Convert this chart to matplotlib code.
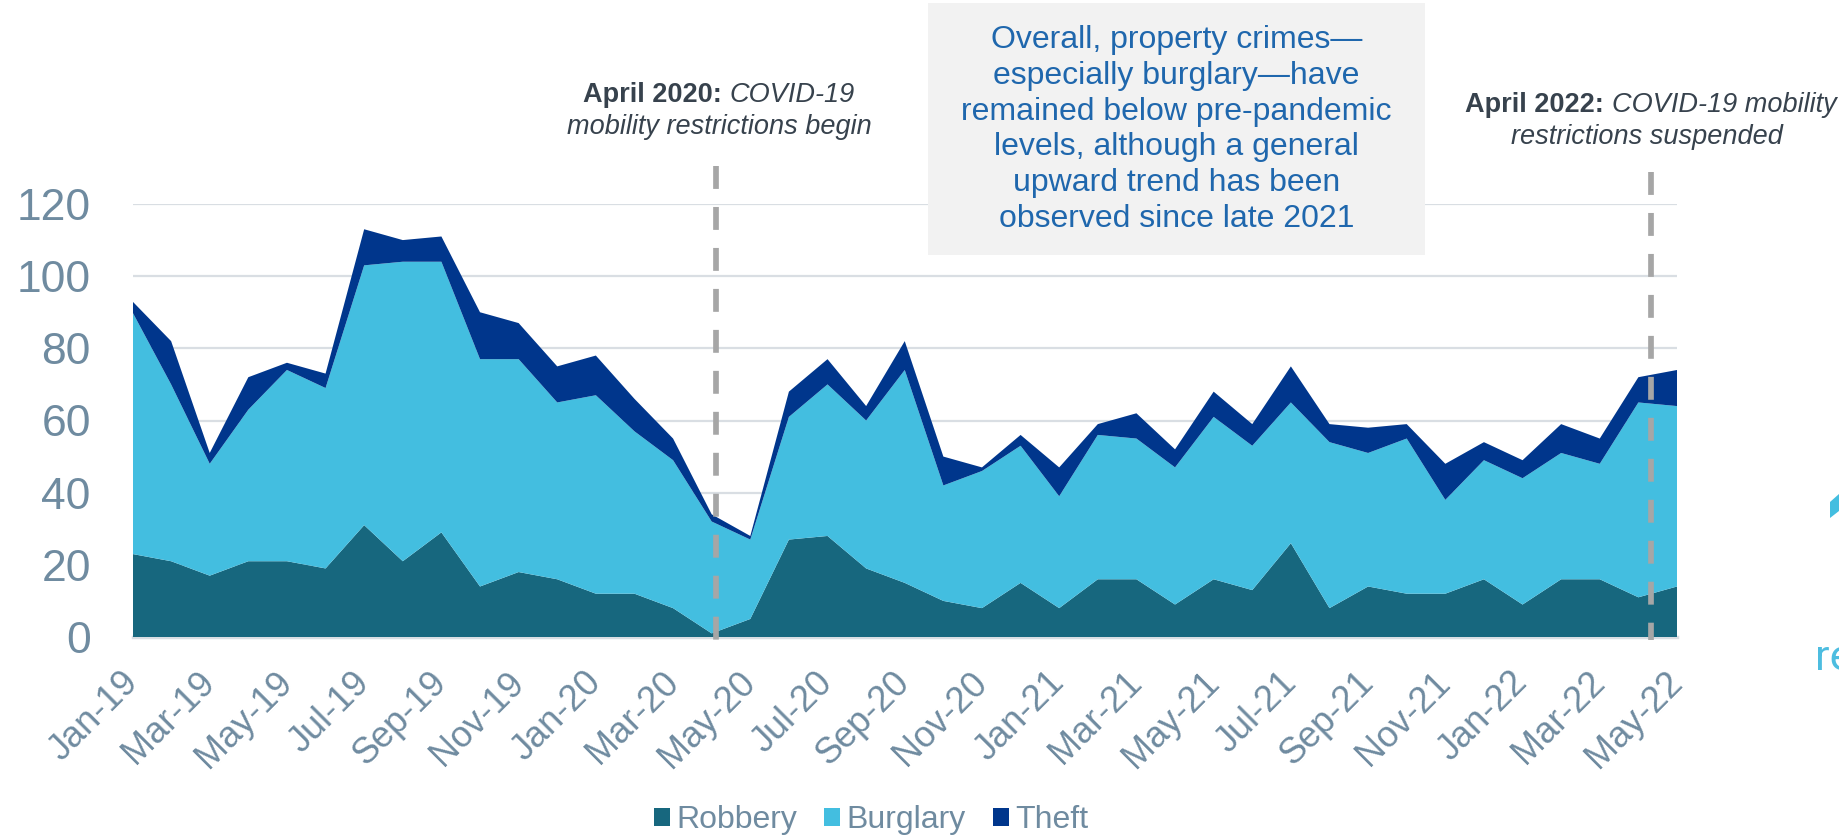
import matplotlib
matplotlib.use('Agg')
import matplotlib.pyplot as plt
from matplotlib.patches import Rectangle, Polygon

plt.rcParams['font.family'] = ['Liberation Sans', 'DejaVu Sans']
plt.rcParams['lines.scale_dashes'] = False

months = ['Jan-19', 'Feb-19', 'Mar-19', 'Apr-19', 'May-19', 'Jun-19', 'Jul-19', 'Aug-19',
          'Sep-19', 'Oct-19', 'Nov-19', 'Dec-19', 'Jan-20', 'Feb-20', 'Mar-20', 'Apr-20',
          'May-20', 'Jun-20', 'Jul-20', 'Aug-20', 'Sep-20', 'Oct-20', 'Nov-20', 'Dec-20',
          'Jan-21', 'Feb-21', 'Mar-21', 'Apr-21', 'May-21', 'Jun-21', 'Jul-21', 'Aug-21',
          'Sep-21', 'Oct-21', 'Nov-21', 'Dec-21', 'Jan-22', 'Feb-22', 'Mar-22', 'Apr-22',
          'May-22']
robbery = [23, 21, 17, 21, 21, 19, 31, 21, 29, 14, 18, 16, 12, 12, 8, 1,
           5, 27, 28, 19, 15, 10, 8, 15, 8, 16, 16, 9, 16, 13, 26, 8,
           14, 12, 12, 16, 9, 16, 16, 11, 14]
burglary = [67, 49, 31, 42, 53, 50, 72, 83, 75, 63, 59, 49, 55, 45, 41, 31,
            22, 34, 42, 41, 59, 32, 38, 38, 31, 40, 39, 38, 45, 40, 39, 46,
            37, 43, 26, 33, 35, 35, 32, 54, 50]
theft = [3, 12, 3, 9, 2, 4, 10, 6, 7, 13, 10, 10, 11, 9, 6, 2,
         1, 7, 7, 4, 8, 8, 1, 3, 8, 3, 7, 5, 7, 6, 10, 5,
         7, 4, 10, 5, 5, 8, 7, 7, 10]
series_names = ['Robbery', 'Burglary', 'Theft']
yticks = [0, 20, 40, 60, 80, 100, 120]
events = [15.1, 39.33]

colors = ['#17677E', '#43BEE0', '#00368C']
tick_color = '#6F8BA0'
note_color = '#37424D'
box_text_color = '#1F67AD'

W, H = 1839, 840
fig = plt.figure(figsize=(W / 100, H / 100), dpi=100)
ax = fig.add_axes([132.5 / W, 1 - 637 / H, (1677 - 132.5) / W, 433 / H])

x = list(range(len(months)))
ax.stackplot(x, robbery, burglary, theft, colors=colors, linewidth=0, zorder=2)
ax.set_xlim(0, len(months) - 1)
ax.set_ylim(0, 120)
ax.set_yticks(yticks)
ax.set_xticks(x[::2])
ax.set_xticklabels(months[::2], rotation=45, ha='right', va='center', rotation_mode='anchor')
ax.tick_params(axis='x', length=0, pad=29, labelsize=26, labelcolor=tick_color)
ax.tick_params(axis='y', length=0, pad=30, labelsize=32, labelcolor=tick_color)
for s in ax.spines.values():
    s.set_visible(False)
ax.grid(axis='y', color='#D9DEE3', linewidth=1.6, zorder=0)
ax.grid(axis='x', visible=False)
ax.set_axisbelow(True)
ax.axhline(0, color='#D9DEE3', linewidth=2.5, zorder=1, clip_on=False)

# event dashed lines
ax.plot([events[0], events[0]], [130.5, -0.9], color='#A6A6A6', linewidth=4.1,
        dashes=(16.5, 13), clip_on=False, zorder=5)
ax.plot([events[1], events[1]], [128.9, -0.9], color='#A6A6A6', linewidth=4.1,
        dashes=(16.5, 13), clip_on=False, zorder=5)

# legend
handles = [Rectangle((0, 0), 1, 1, facecolor=c, edgecolor='none') for c in colors]
fig.legend(handles, series_names, loc='center', bbox_to_anchor=(871 / W, 1 - 820 / H),
           ncol=3, frameon=False, fontsize=23, handlelength=0.5, handleheight=0.5,
           handletextpad=0.2, columnspacing=0.85, labelcolor=tick_color)

# text box
fig.patches.append(Rectangle((928 / W, 1 - 254.5 / H), (1425 - 928) / W, 251 / H,
                             transform=fig.transFigure, facecolor='#F2F2F2',
                             edgecolor='none', zorder=3))
fig.text(1176.5 / W, 1 - 129.5 / H,
         'Overall, property crimes\u2014\nespecially burglary\u2014have\n'
         'remained below pre-pandemic\nlevels, although a general\n'
         'upward trend has been\nobserved since late 2021',
         ha='center', va='center', fontsize=23, color=box_text_color,
         linespacing=1.26, zorder=4)

renderer = fig.canvas.get_renderer()


def mixed_line(cx, cy, bold, italic, size):
    tb = fig.text(0, 1 - cy / H, bold, fontsize=size, fontweight='bold',
                  color=note_color, ha='left', va='center', zorder=4)
    ti = fig.text(0, 1 - cy / H, italic, fontsize=size, fontstyle='italic',
                  color=note_color, ha='left', va='center', zorder=4)
    wb = tb.get_window_extent(renderer).width
    wi = ti.get_window_extent(renderer).width
    gap = 0.28 * size * 100 / 72
    start = cx - (wb + gap + wi) / 2
    tb.set_x(start / W)
    ti.set_x((start + wb + gap) / W)


ann_size = 19.5
mixed_line(719, 95, 'April 2020:', 'COVID-19', ann_size)
fig.text(719 / W, 1 - 127 / H, 'mobility restrictions begin', fontsize=ann_size,
         fontstyle='italic', color=note_color, ha='center', va='center')
mixed_line(1651, 105.5, 'April 2022:', 'COVID-19 mobility', ann_size)
fig.text(1647 / W, 1 - 137 / H, 'restrictions suspended', fontsize=ann_size,
         fontstyle='italic', color=note_color, ha='center', va='center')

# partially visible logo at right edge
fig.text(1815 / W, 1 - 670 / H, 're', fontsize=31, color='#4DBDE0', ha='left',
         va='baseline', family=['Roboto', 'DejaVu Sans'])
fig.patches.append(Polygon([(1830 / W, 1 - 502 / H), (1839 / W, 1 - 494 / H),
                            (1839 / W, 1 - 511 / H), (1830 / W, 1 - 518 / H)],
                           closed=True, transform=fig.transFigure,
                           facecolor='#43BEE0', edgecolor='none'))

fig.savefig('out.png', dpi=100)
